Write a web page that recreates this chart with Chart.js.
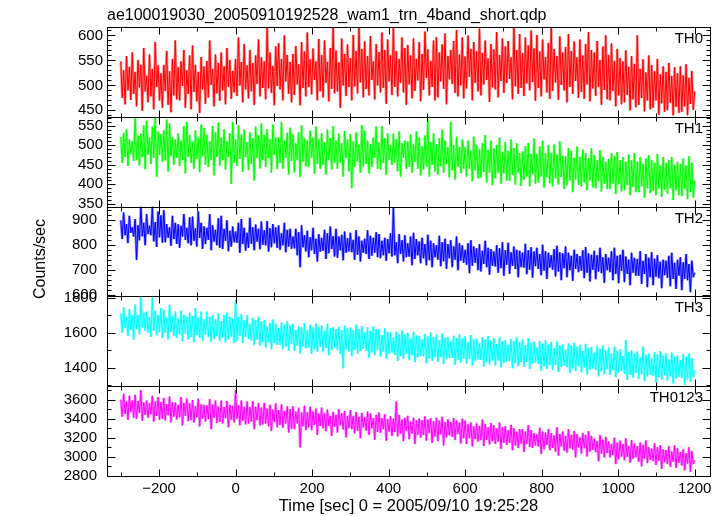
<!DOCTYPE html>
<html><head><meta charset="utf-8">
<script src="https://cdn.jsdelivr.net/npm/chart.js@4/dist/chart.umd.min.js"></script>
<style>html,body{margin:0;padding:0;background:#fff}canvas{display:block}</style>
</head><body>
<canvas id="c" width="726" height="516"></canvas>
<script>
const TITLE = "ae100019030_20050910192528_wam1_trn_4band_short.qdp";
const X_TITLE = "Time [sec] 0 = 2005/09/10 19:25:28";
const Y_TITLE = "Counts/sec";
const PANEL_NAMES = ["TH0", "TH1", "TH2", "TH3", "TH0123"];
const X_TICKS = [-200, 0, 200, 400, 600, 800, 1000, 1200];
const Y_TICKS_TH0 = [450, 500, 550, 600];
const Y_TICKS_TH1 = [350, 400, 450, 500, 550];
const Y_TICKS_TH2 = [600, 700, 800, 900];
const Y_TICKS_TH3 = [1400, 1600, 1800];
const Y_TICKS_TH0123 = [2800, 3000, 3200, 3400, 3600];

// time bins (sec), 3.75 s spacing from -300 to 1200 (401 bins)
const times = Array.from({length: 401}, (_, i) => -300 + 3.75 * i);

const th0 = [
548,475,530,462,559,490,537,471,566,483, 527,458,551,496,541,449,575,488,519,466,
562,478,533,452,587,497,540,470,524,455, 541,489,569,461,528,446,553,480,590,472,
536,470,548,499,571,455,530,483,560,452, 580,487,541,468,527,445,557,492,538,463,
549,476,590,501,533,458,562,484,545,469, 566,490,538,462,575,497,551,473,529,486,
553,479,596,500,547,466,583,492,540,474, 571,488,545,461,560,503,592,478,556,495,
548,472,617,494,566,485,539,460,578,499, 585,492,553,470,600,508,561,483,547,466,
563,481,579,502,542,460,587,495,568,478, 606,497,552,482,574,511,548,470,593,488,
561,476,590,505,547,468,575,493,617,484, 570,488,546,455,594,500,563,479,582,497,
555,470,601,498,569,484,617,506,573,476, 588,493,559,480,599,511,548,472,583,500,
567,486,606,495,571,463,592,508,560,481, 617,497,569,478,553,505,596,486,575,461,
581,502,560,474,594,489,553,510,587,468, 563,491,608,515,572,480,549,497,590,470,
597,476,566,508,582,493,604,462,559,512, 571,503,589,485,611,478,562,500,596,474,
558,494,600,517,573,470,587,505,568,488, 614,480,565,502,590,511,554,467,583,496,
572,492,607,476,561,509,594,485,578,505, 589,513,556,472,617,498,571,483,603,495,
565,479,596,504,580,490,610,507,574,469, 601,495,568,478,592,512,557,486,585,473,
617,489,573,506,559,471,598,501,566,490, 577,466,603,497,569,483,588,509,556,475,
592,487,560,473,583,502,607,468,571,494, 566,479,589,497,551,461,578,491,600,472,
561,470,584,489,549,458,573,480,555,462, 548,466,570,481,537,450,559,472,543,456,
600,461,533,475,552,448,526,470,560,452, 541,455,528,470,553,441,522,464,538,447,
527,450,545,465,519,440,536,457,524,445, 538,447,520,458,542,440,515,463,529,451,
488];

const th1 = [
521,455,532,470,541,447,515,478,510,460, 573,462,525,448,530,470,551,439,563,476,
520,452,548,468,573,420,535,475,529,458, 538,461,566,433,556,472,521,450,515,468,
530,447,512,462,549,428,560,470,526,455, 509,440,538,466,520,431,553,472,544,450,
527,445,510,462,549,423,533,470,558,448, 520,462,541,438,510,470,531,401,560,455,
515,447,552,465,527,432,540,470,508,437, 533,453,518,410,548,467,525,441,556,462,
527,445,541,468,515,430,553,476,520,439, 520,455,560,440,512,468,532,425,545,460,
528,430,505,462,533,418,552,458,518,446, 512,445,538,468,520,428,548,452,515,440,
531,450,507,425,540,462,518,438,549,455, 512,440,530,456,505,420,536,468,515,433,
528,390,510,445,533,458,502,430,552,446, 538,452,512,428,503,445,520,468,548,440,
507,438,549,455,518,425,531,462,500,450, 530,456,515,433,536,420,505,468,512,440,
510,445,528,430,502,458,535,440,520,423, 498,438,525,446,567,420,508,450,531,433,
503,425,518,447,540,430,512,452,495,418, 560,436,500,412,522,445,496,428,515,440,
495,420,512,440,486,408,522,436,500,415, 490,418,505,432,526,405,488,430,512,398,
492,415,501,430,520,402,483,428,508,410, 486,409,515,424,493,400,505,430,480,396,
484,412,498,420,506,395,478,426,517,402, 478,405,497,420,512,392,480,418,500,403,
481,395,502,415,476,400,510,419,473,388, 472,398,493,410,486,380,468,412,497,399,
470,395,489,405,480,385,467,410,492,392, 475,390,462,408,488,382,470,402,458,388,
465,388,480,402,472,375,483,400,462,382, 470,385,458,398,476,372,462,393,480,380,
458,380,470,395,452,365,466,390,475,378, 462,384,455,372,478,390,448,368,470,386,
455,376,462,390,470,360,450,385,458,372, 452,370,466,388,448,362,472,380,455,366,
410];

const th2 = [
900,825,931,840,885,809,918,850,872,835, 905,741,880,820,955,836,890,800,925,845,
878,840,955,815,893,793,935,832,920,810, 940,812,885,830,872,798,918,825,890,805,
884,790,878,835,925,822,870,808,912,800, 915,818,868,795,935,830,890,785,876,805,
870,822,925,780,880,815,862,800,908,790, 918,785,866,818,900,776,858,795,875,812,
855,810,890,770,905,805,870,778,850,790, 910,806,872,780,883,815,866,784,895,802,
860,800,897,775,868,792,885,808,872,790, 880,782,848,800,890,772,862,795,866,786,
835,788,866,760,852,712,880,792,840,775, 858,752,832,780,870,765,826,735,845,775,
830,778,862,745,848,768,875,785,836,755, 866,750,835,780,842,740,855,770,828,775,
850,772,822,742,860,762,835,735,818,770, 826,765,860,745,838,758,830,770,852,752,
845,748,818,760,830,738,825,768,848,755, 950,760,812,728,845,765,820,735,840,752,
808,755,835,720,850,745,825,760,815,728, 830,748,805,720,842,740,818,712,808,752,
800,742,838,716,812,736,826,706,805,748, 820,712,795,742,835,700,808,738,800,730,
782,722,808,688,820,718,795,730,788,700, 805,695,778,725,818,712,790,682,785,718,
775,715,800,690,788,708,812,678,780,722, 810,686,772,718,795,705,782,672,778,712,
770,710,806,684,780,702,792,670,775,716, 790,705,765,680,802,698,776,665,770,710,
760,702,785,675,798,695,772,660,768,708, 795,672,770,700,758,658,782,705,765,692,
756,698,780,668,793,690,768,655,762,702, 778,664,760,695,790,688,752,650,765,700,
750,692,776,660,790,685,758,648,762,698, 782,652,755,685,742,640,770,690,750,678,
745,678,776,645,738,685,765,632,750,672, 772,640,746,674,760,668,734,628,742,680,
738,670,758,636,770,665,730,625,742,678, 752,620,732,665,765,660,725,612,738,672,
690];

const th3 = [
1710,1600,1745,1625,1690,1580,1735,1615,1700,1560, 1760,1620,1700,1590,1805,1630,1715,1610,1720,1600,
1690,1575,1800,1610,1725,1585,1700,1605,1740,1570, 1730,1600,1685,1560,1760,1605,1695,1580,1720,1570,
1680,1590,1725,1550,1700,1595,1690,1560,1715,1575, 1695,1545,1740,1585,1685,1570,1720,1555,1675,1590,
1720,1575,1690,1548,1700,1565,1675,1580,1710,1552, 1665,1572,1700,1545,1715,1560,1690,1578,1680,1540,
1785,1550,1690,1580,1705,1540,1670,1575,1700,1565, 1650,1555,1685,1530,1672,1560,1690,1525,1665,1545,
1670,1515,1635,1545,1655,1505,1675,1540,1650,1530, 1625,1530,1660,1505,1645,1520,1665,1495,1640,1535,
1650,1495,1615,1525,1635,1480,1630,1520,1655,1510, 1612,1515,1645,1478,1628,1505,1652,1490,1632,1520,
1640,1488,1610,1512,1650,1470,1625,1500,1630,1515, 1620,1500,1632,1478,1615,1396,1640,1505,1625,1492,
1628,1465,1612,1502,1645,1480,1618,1495,1636,1508, 1600,1495,1630,1455,1610,1488,1636,1470,1620,1500,
1618,1462,1585,1490,1625,1450,1605,1478,1600,1485, 1572,1472,1605,1438,1590,1465,1612,1450,1588,1478,
1598,1442,1565,1470,1605,1430,1584,1458,1580,1465, 1560,1465,1592,1425,1578,1452,1600,1438,1575,1460,
1588,1432,1555,1460,1596,1420,1570,1448,1574,1456, 1550,1455,1582,1415,1568,1442,1590,1428,1565,1450,
1578,1422,1545,1450,1585,1410,1560,1438,1565,1445, 1540,1445,1572,1405,1560,1432,1580,1418,1555,1440,
1568,1412,1535,1440,1575,1400,1550,1428,1555,1435, 1530,1436,1564,1396,1552,1424,1572,1408,1546,1432,
1560,1405,1528,1432,1568,1392,1542,1420,1548,1428, 1515,1420,1550,1380,1536,1408,1555,1392,1530,1415,
1545,1388,1510,1415,1550,1375,1525,1402,1532,1410, 1502,1402,1538,1368,1525,1395,1542,1380,1518,1408,
1530,1372,1495,1400,1535,1360,1510,1388,1518,1395, 1485,1385,1520,1350,1508,1378,1525,1362,1500,1390,
1515,1358,1480,1385,1520,1345,1495,1372,1502,1380, 1465,1365,1556,1330,1488,1358,1500,1342,1480,1370,
1492,1335,1458,1362,1520,1322,1472,1350,1480,1358, 1452,1352,1488,1316,1475,1345,1492,1330,1468,1356,
1480,1324,1446,1350,1486,1308,1462,1338,1468,1346, 1440,1340,1475,1300,1462,1332,1480,1318,1455,1345,
1385];

const th0123 = [
3600,3420,3660,3450,3580,3390,3640,3470,3590,3410, 3650,3400,3585,3460,3700,3380,3570,3440,3590,3410,
3560,3445,3640,3370,3580,3430,3625,3390,3575,3400, 3617,3382,3552,3437,3632,3362,3572,3422,3567,3392,
3545,3415,3625,3330,3565,3430,3610,3375,3560,3385, 3595,3360,3530,3415,3610,3320,3550,3400,3545,3370,
3540,3395,3605,3290,3548,3410,3590,3355,3525,3365, 3590,3350,3520,3405,3585,3310,3545,3390,3535,3360,
3700,3400,3540,3330,3590,3380,3525,3340,3580,3350, 3520,3370,3585,3290,3525,3385,3565,3330,3515,3340,
3565,3350,3505,3320,3545,3270,3495,3365,3560,3310, 3490,3335,3550,3305,3480,3350,3530,3255,3500,3295,
3530,3290,3475,3350,3515,3100,3465,3320,3535,3280, 3465,3310,3525,3280,3475,3335,3505,3230,3455,3325,
3515,3300,3455,3270,3495,3325,3430,3220,3470,3315, 3440,3255,3500,3330,3455,3285,3480,3205,3430,3300,
3490,3290,3430,3245,3470,3275,3420,3195,3460,3310, 3415,3275,3475,3230,3455,3300,3405,3180,3440,3260,
3465,3250,3405,3290,3445,3170,3395,3265,3425,3220, 3400,3260,3580,3215,3440,3245,3390,3165,3410,3275,
3430,3185,3370,3245,3410,3135,3380,3230,3400,3200, 3385,3230,3425,3170,3390,3250,3405,3150,3375,3215,
3410,3165,3380,3235,3420,3120,3365,3205,3395,3225, 3365,3210,3405,3180,3380,3240,3360,3140,3400,3195,
3380,3135,3340,3195,3360,3110,3320,3185,3350,3160, 3325,3175,3390,3115,3345,3180,3310,3130,3355,3165,
3330,3135,3295,3160,3360,3085,3310,3150,3320,3125, 3280,3145,3335,3070,3300,3120,3265,3095,3290,3140,
3290,3055,3265,3135,3330,3105,3280,3095,3250,3120, 3240,3110,3305,3030,3265,3080,3255,3125,3290,3070,
3250,3095,3225,3055,3310,3015,3240,3110,3265,3065, 3220,3045,3290,3090,3230,3075,3270,2995,3240,3100,
3205,3035,3250,3090,3230,3005,3270,3055,3220,3075, 3190,3050,3165,2955,3230,3035,3180,2995,3210,3040,
3160,2995,3135,3020,3200,2925,3150,2975,3170,3005, 3135,2965,3195,3000,3110,2940,3175,2980,3140,2995,
3110,2950,3150,2900,3125,2985,3170,2935,3100,2970, 3085,2955,3140,2915,3100,2960,3120,2875,3080,2945,
3070,2925,3110,2895,3055,2950,3120,2885,3090,2940, 3050,2910,3080,2860,3040,2930,3100,2845,3060,2925,
2965];

const FONT = '"Liberation Sans", Arial, Helvetica, sans-serif';

const PANELS = [
  {id: 'y0', name: PANEL_NAMES[0], data: th0, color: '#ff0000', tint: 'rgba(255,0,0,0.45)', min: 437, max: 617, ticks: Y_TICKS_TH0, minor: 10, pad: 4},
  {id: 'y1', name: PANEL_NAMES[1], data: th1, color: '#00ff00', tint: 'rgba(0,255,0,0.45)', min: 343, max: 573, ticks: Y_TICKS_TH1, minor: 10, pad: 4},
  {id: 'y2', name: PANEL_NAMES[2], data: th2, color: '#0000ff', tint: 'rgba(0,0,255,0.45)', min: 595, max: 955, ticks: Y_TICKS_TH2, minor: 20, pad: 10},
  {id: 'y3', name: PANEL_NAMES[3], data: th3, color: '#00ffff', tint: 'rgba(0,255,255,0.45)', min: 1293, max: 1807, ticks: Y_TICKS_TH3, minor: 100, pad: 10},
  {id: 'y4', name: PANEL_NAMES[4], data: th0123, color: '#ff00ff', tint: 'rgba(255,0,255,0.45)', min: 2800, max: 3740, ticks: Y_TICKS_TH0123, minor: 100, pad: 10}
];

const scales = {
  x: {
    type: 'linear', position: 'bottom', min: -336, max: 1240,
    grid: {display: false, drawTicks: false}, border: {display: false},
    afterBuildTicks: s => { s.ticks = X_TICKS.map(v => ({value: v})); },
    afterFit: s => { s.height = 40; },
    ticks: {autoSkip: false, maxRotation: 0, padding: 4, color: '#000',
      font: {family: FONT, size: 15},
      callback: v => (v < 0 ? '\u2212' + Math.abs(v) : String(v))}
  }
};
// bottom panel first: stacked axes are placed from the bottom up
[...PANELS].reverse().forEach(p => {
  scales[p.id] = {
    type: 'linear', position: 'left', stack: 'panels', stackWeight: 1,
    min: p.min, max: p.max,
    grid: {display: false, drawTicks: false}, border: {display: false},
    afterBuildTicks: s => { s.ticks = p.ticks.map(v => ({value: v})); },
    afterFit: s => { s.width = 107; },
    ticks: {autoSkip: false, padding: p.pad, color: '#000',
      font: {family: FONT, size: 15}, callback: v => String(v)}
  };
});

const framePlugin = {
  id: 'frame',
  afterDraw(chart) {
    const ctx = chart.ctx, ca = chart.chartArea, xs = chart.scales.x;
    ctx.save();
    ctx.strokeStyle = '#000';
    ctx.lineWidth = 1;
    const seg = (x1, y1, x2, y2) => { ctx.beginPath(); ctx.moveTo(x1, y1); ctx.lineTo(x2, y2); ctx.stroke(); };
    const L = Math.round(ca.left) + 0.5, R = Math.round(ca.right) + 0.5;
    PANELS.forEach(p => {
      const s = chart.scales[p.id];
      const T = Math.round(s.top) + 0.5, B = Math.round(s.bottom) + 0.5;
      ctx.strokeRect(L, T, R - L, B - T);
      for (let t = -300; t <= 1200; t += 100) {
        const px = Math.round(xs.getPixelForValue(t)) + 0.5;
        const len = (t % 200 === 0) ? 7 : 4;
        seg(px, T, px, T + len);
        seg(px, B, px, B - len);
      }
      const majors = s.ticks.map(t => t.value);
      for (let v = Math.ceil(p.min / p.minor) * p.minor; v <= p.max; v += p.minor) {
        const len = majors.includes(v) ? 8 : 4;
        const py = Math.round(s.getPixelForValue(v)) + 0.5;
        seg(L, py, L + len, py);
        seg(R, py, R - len, py);
      }
      ctx.fillStyle = '#000';
      ctx.font = '15px ' + FONT;
      ctx.textAlign = 'right';
      ctx.textBaseline = 'alphabetic';
      ctx.fillText(p.name, ca.right - 7, s.top + 16);
    });
    ctx.fillStyle = '#000';
    ctx.font = '16px ' + FONT;
    ctx.textAlign = 'left';
    ctx.textBaseline = 'alphabetic';
    ctx.fillText(TITLE, ca.left, 20);
    ctx.textAlign = 'center';
    ctx.font = '16.5px ' + FONT;
    ctx.fillText(X_TITLE, (ca.left + ca.right) / 2, 511);
    ctx.font = '16px ' + FONT;
    ctx.translate(41, 259);
    ctx.rotate(-Math.PI / 2);
    ctx.textBaseline = 'middle';
    ctx.fillText(Y_TITLE, 0, 0);
    ctx.restore();
  }
};

const datasets = [];
PANELS.forEach(p => {
  const pts = times.map((t, i) => ({x: t, y: p.data[i]}));
  // light underlay (error-bar tint), then the full-colour trace
  datasets.push({label: p.name + ' err', yAxisID: p.id, xAxisID: 'x', data: pts,
    borderColor: p.tint, borderWidth: 2.6, borderJoinStyle: 'bevel',
    pointRadius: 0, tension: 0, fill: false, order: 2});
  datasets.push({label: p.name, yAxisID: p.id, xAxisID: 'x', data: pts,
    borderColor: p.color, borderWidth: 1, borderJoinStyle: 'bevel',
    pointRadius: 0, tension: 0, fill: false, order: 1});
});

new Chart(document.getElementById('c'), {
  type: 'line',
  data: {datasets: datasets},
  options: {
    responsive: false,
    animation: false,
    devicePixelRatio: 1,
    layout: {padding: {top: 27, right: 16, bottom: 0, left: 0}},
    plugins: {legend: {display: false}, tooltip: {enabled: false}, title: {display: false}},
    scales: scales
  },
  plugins: [framePlugin]
});
</script>
</body></html>
